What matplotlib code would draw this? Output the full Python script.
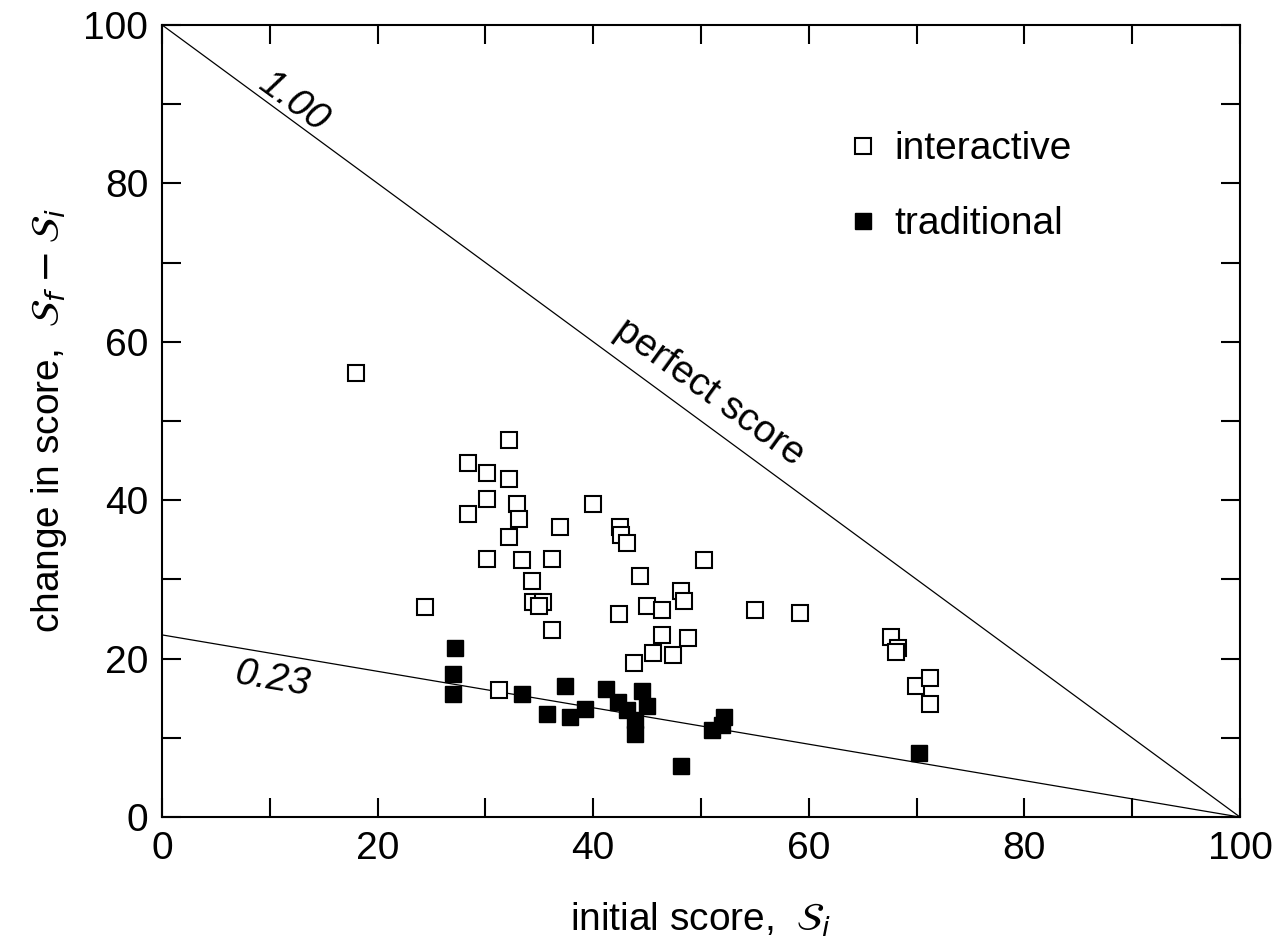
import numpy as np
import matplotlib.pyplot as plt
from matplotlib.ticker import MultipleLocator, FuncFormatter

plt.rcParams['font.family'] = ['Liberation Sans', 'DejaVu Sans']
plt.rcParams['mathtext.fontset'] = 'dejavusans'

# interactive courses: initial score, change in score
inter_x = [18.0, 24.4, 28.4, 28.4, 30.1, 30.1, 30.1, 31.3, 32.2, 32.2, 32.2, 32.9,
           33.1, 33.4, 34.3, 34.4, 35.3, 35.0, 36.2, 36.2, 36.9, 40.0, 42.5, 42.6,
           43.1, 42.4, 43.8, 44.3, 45.0, 45.5, 46.4, 46.4, 47.4, 48.1, 48.4, 48.8,
           50.3, 55.0, 59.2, 67.6, 68.3, 68.1, 69.9, 71.2, 71.2]
inter_y = [56.1, 26.5, 44.7, 38.2, 43.4, 40.2, 32.6, 16.1, 47.6, 42.7, 35.4, 39.5,
           37.6, 32.4, 29.8, 27.2, 27.2, 26.6, 32.6, 23.6, 36.6, 39.5, 36.6, 35.6,
           34.6, 25.6, 19.4, 30.4, 26.6, 20.7, 26.2, 23.0, 20.4, 28.6, 27.3, 22.6,
           32.4, 26.2, 25.8, 22.7, 21.3, 20.8, 16.5, 17.6, 14.3]

# traditional courses
trad_x = [27.2, 27.0, 27.0, 33.4, 37.4, 35.7, 37.8, 39.2, 41.2, 42.3, 43.1, 44.5,
          45.0, 43.9, 43.9, 48.1, 51.0, 52.1, 51.9, 70.2]
trad_y = [21.4, 18.1, 15.6, 15.6, 16.5, 13.0, 12.6, 13.6, 16.2, 14.5, 13.5, 15.9,
          14.0, 12.2, 10.5, 6.5, 11.0, 12.6, 11.6, 8.1]

# average normalized gain lines: change = g * (100 - initial)
gains = [1.00, 0.23]
gain_labels = ['1.00', '0.23']

fig, ax = plt.subplots(figsize=(12.83, 9.49), dpi=100)
fig.subplots_adjust(left=0.1263, right=0.9665, top=0.9737, bottom=0.139)

xs = np.array([0, 100])
for g in gains:
    ax.plot(xs, g * (100 - xs), color='black', lw=0.9, zorder=1)

ax.plot(inter_x, inter_y, 's', ms=12, mfc='white', mec='black', mew=1.5,
        ls='none', label='interactive', zorder=3)
ax.plot(trad_x, trad_y, 's', ms=12, mfc='black', mec='black', mew=1.0,
        ls='none', label='traditional', zorder=4)

ax.text(12.2, 90.3, gain_labels[0], rotation=-36, fontsize=28, style='italic',
        ha='center', va='center')
ax.text(50.8, 53.6, 'perfect score', rotation=-36, fontsize=28,
        ha='center', va='center')
ax.text(10.2, 17.4, gain_labels[1], rotation=-9.5, fontsize=28, style='italic',
        ha='center', va='center')

ax.set_xlim(0, 100)
ax.set_ylim(0, 100)
ax.xaxis.set_major_locator(MultipleLocator(10))
ax.yaxis.set_major_locator(MultipleLocator(10))
fmt = FuncFormatter(lambda v, p: '%d' % v if int(round(v)) % 20 == 0 else '')
ax.xaxis.set_major_formatter(fmt)
ax.yaxis.set_major_formatter(fmt)
ax.tick_params(direction='in', length=14, width=1.5, top=True, right=True,
               labelsize=28)
ax.tick_params(axis='x', pad=10)
ax.tick_params(axis='y', pad=10)
for s in ax.spines.values():
    s.set_linewidth(1.5)

ax.set_xlabel(r'initial score,  $\mathcal{S}_i$', fontsize=28, labelpad=24)
ax.set_ylabel(r'change in score,  $\mathcal{S}_f - \mathcal{S}_i$', fontsize=28,
              labelpad=10)

ax.legend(loc='upper left', bbox_to_anchor=(0.60, 0.91), frameon=False,
          fontsize=28, handletextpad=0.3, labelspacing=1.0, markerscale=1.0,
          handlelength=1.0)

plt.savefig('out.png', dpi=100)
